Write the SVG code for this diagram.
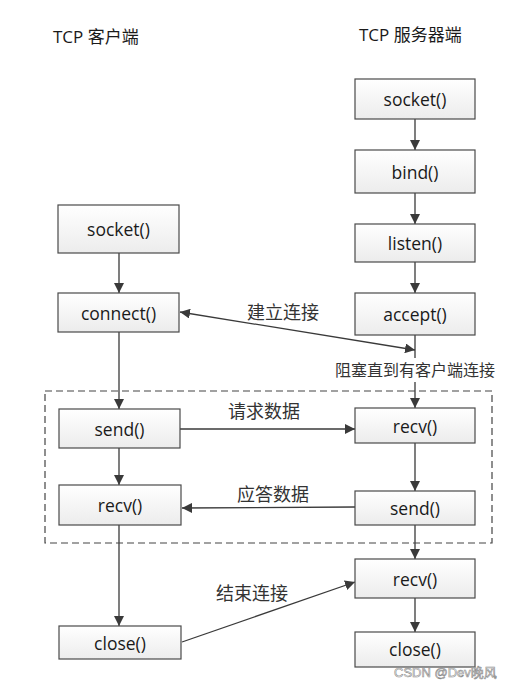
<svg xmlns="http://www.w3.org/2000/svg" width="525" height="681" viewBox="0 0 525 681">
<style>
.box{fill:url(#g);stroke:#4a4a4a;stroke-width:1.2}
.bt{font-family:"Open Sans","Noto Sans",sans-serif;font-size:17.5px;fill:#1a1a1a;text-anchor:middle;dominant-baseline:central}
.hd{font-family:"Open Sans","Noto Sans CJK SC",sans-serif;font-size:17px;fill:#1a1a1a}
.lb{font-family:"Noto Sans CJK SC",sans-serif;font-size:18px;fill:#333;text-anchor:middle;dominant-baseline:central}
.ln{stroke:#3a3a3a;stroke-width:1.3;fill:none}
</style>
<defs>
<linearGradient id="g" x1="0" y1="0" x2="0" y2="1"><stop offset="0" stop-color="#ffffff"/><stop offset="1" stop-color="#ececec"/></linearGradient>
<marker id="ah" viewBox="0 0 10 10" refX="10" refY="5" markerWidth="10" markerHeight="10" markerUnits="userSpaceOnUse" orient="auto-start-reverse"><path d="M0,0 L10,5 L0,10 z" fill="#3a3a3a"/></marker>
</defs>
<rect width="525" height="681" fill="#fff"/>
<text class="hd" x="53" y="43">TCP 客户端</text>
<text class="hd" x="359" y="41">TCP 服务器端</text>
<g id="connectors">
<line class="ln" x1="119" y1="253" x2="119" y2="293" marker-end="url(#ah)"/>
<line class="ln" x1="119" y1="332" x2="119" y2="409" marker-end="url(#ah)"/>
<line class="ln" x1="119" y1="448" x2="119" y2="485" marker-end="url(#ah)"/>
<line class="ln" x1="119" y1="525" x2="119" y2="626" marker-end="url(#ah)"/>
<line class="ln" x1="415" y1="119" x2="415" y2="150" marker-end="url(#ah)"/>
<line class="ln" x1="415" y1="193" x2="415" y2="224" marker-end="url(#ah)"/>
<line class="ln" x1="415" y1="262" x2="415" y2="293" marker-end="url(#ah)"/>
<line class="ln" x1="415" y1="335" x2="415" y2="358"/>
<line class="ln" x1="415" y1="382" x2="415" y2="408" marker-end="url(#ah)"/>
<line class="ln" x1="415" y1="443" x2="415" y2="491" marker-end="url(#ah)"/>
<line class="ln" x1="415" y1="525" x2="415" y2="559" marker-end="url(#ah)"/>
<line class="ln" x1="415" y1="598" x2="415" y2="632" marker-end="url(#ah)"/>
<line class="ln" x1="180" y1="312" x2="415" y2="350" marker-start="url(#ah)" marker-end="url(#ah)"/>
<line class="ln" x1="180" y1="429" x2="355" y2="429" marker-end="url(#ah)"/>
<line class="ln" x1="355" y1="507" x2="182" y2="508" marker-end="url(#ah)"/>
<line class="ln" x1="182" y1="642" x2="355" y2="582" marker-end="url(#ah)"/>
<rect x="45" y="391" width="447" height="152" fill="none" stroke="#444" stroke-width="1.2" stroke-dasharray="7,4"/>
</g>
<text class="lb" x="283" y="311">建立连接</text>
<text class="lb" x="415" y="369" style="font-size:16px">阻塞直到有客户端连接</text>
<text class="lb" x="264" y="410">请求数据</text>
<text class="lb" x="273" y="493">应答数据</text>
<text class="lb" x="252" y="592">结束连接</text>
<g id="c_socket"><rect class="box" x="58" y="205" width="121" height="48"/><text class="bt" x="118.5" y="229">socket()</text></g>
<g id="c_connect"><rect class="box" x="58" y="293" width="121" height="39"/><text class="bt" x="118.5" y="312.5">connect()</text></g>
<g id="c_send"><rect class="box" x="59" y="409" width="121" height="39"/><text class="bt" x="119.5" y="428.5">send()</text></g>
<g id="c_recv"><rect class="box" x="59" y="485" width="122" height="40"/><text class="bt" x="120" y="505">recv()</text></g>
<g id="c_close"><rect class="box" x="59" y="626" width="122" height="33"/><text class="bt" x="120" y="642.5">close()</text></g>
<g id="s_socket"><rect class="box" x="355" y="79" width="120" height="40"/><text class="bt" x="415" y="99">socket()</text></g>
<g id="s_bind"><rect class="box" x="355" y="150" width="120" height="43"/><text class="bt" x="415" y="171.5">bind()</text></g>
<g id="s_listen"><rect class="box" x="355" y="224" width="120" height="38"/><text class="bt" x="415" y="243">listen()</text></g>
<g id="s_accept"><rect class="box" x="355" y="293" width="120" height="42"/><text class="bt" x="415" y="314">accept()</text></g>
<g id="s_recv"><rect class="box" x="355" y="408" width="120" height="35"/><text class="bt" x="415" y="425.5">recv()</text></g>
<g id="s_send"><rect class="box" x="355" y="491" width="120" height="34"/><text class="bt" x="415" y="508">send()</text></g>
<g id="s_recv2"><rect class="box" x="355" y="559" width="120" height="39"/><text class="bt" x="415" y="578.5">recv()</text></g>
<g id="s_close"><rect class="box" x="355" y="632" width="120" height="35"/><text class="bt" x="415" y="649">close()</text></g>
<text x="394" y="677" style="font-family:'Liberation Sans','Noto Sans CJK SC',sans-serif;font-size:13px;fill:#fff;stroke:#8a8a8a;stroke-width:0.6">CSDN @Dev晚风</text>
</svg>
